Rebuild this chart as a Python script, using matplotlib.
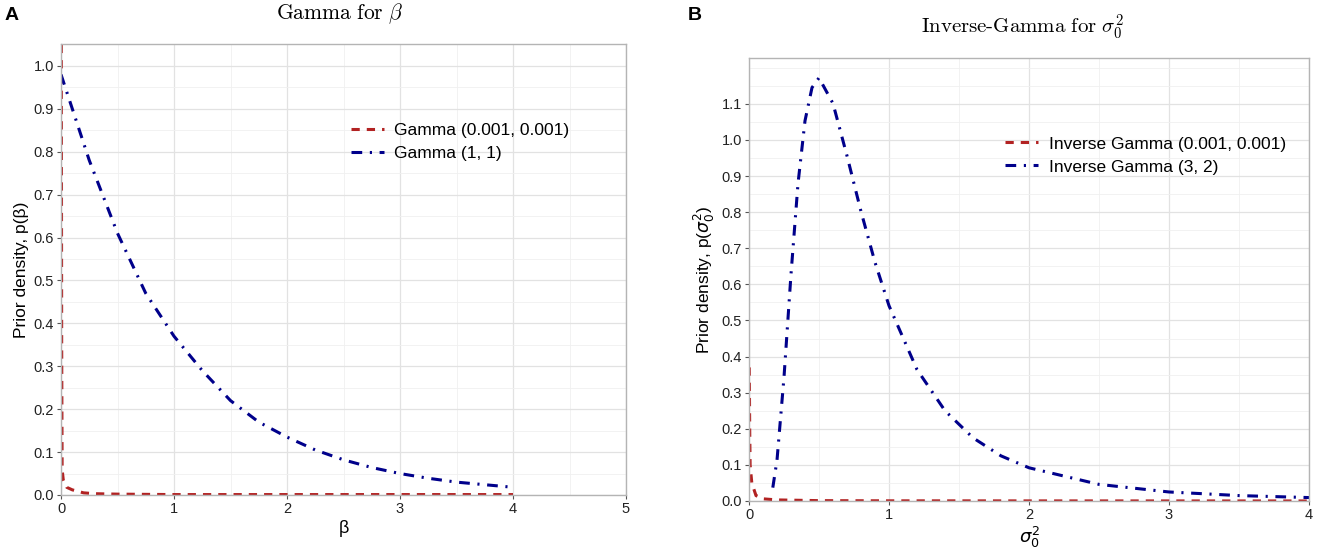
import matplotlib
matplotlib.use("Agg")
import matplotlib.pyplot as plt
from matplotlib.ticker import MultipleLocator

plt.rcParams['font.family'] = ['Liberation Sans', 'DejaVu Sans']
plt.rcParams['mathtext.fontset'] = 'dejavusans'

# Panel A: Gamma priors for beta
beta_vague_x = [0.002, 0.006, 0.01, 0.02, 0.05, 0.1, 0.2, 0.3, 0.5, 1.0, 1.5, 2.0, 2.5, 3.0, 3.5, 4.0]
beta_vague_y = [1.20, 0.35, 0.06, 0.035, 0.018, 0.012, 0.005, 0.003, 0.002, 0.001, 0.001, 0.001, 0.001, 0.001, 0.001, 0.001]
beta_inf_x = [0.0, 0.25, 0.5, 0.75, 1.0, 1.25, 1.5, 1.75, 2.0, 2.25, 2.5, 2.75, 3.0, 3.25, 3.5, 3.75, 4.0]
beta_inf_y = [0.98, 0.78, 0.61, 0.47, 0.37, 0.29, 0.22, 0.17, 0.135, 0.105, 0.082, 0.064, 0.05, 0.039, 0.03, 0.024, 0.018]

# Panel B: Inverse-Gamma priors for sigma0^2
sig_vague_x = [0.002, 0.005, 0.008, 0.02, 0.05, 0.1, 0.2, 0.5, 1.0, 2.0, 3.0, 4.0]
sig_vague_y = [0.37, 0.2, 0.1, 0.05, 0.015, 0.006, 0.003, 0.001, 0.0005, 0.0003, 0.0002, 0.0001]
sig_inf_x = [0.17, 0.2, 0.25, 0.3, 0.35, 0.4, 0.45, 0.5, 0.6, 0.7, 0.8, 0.9, 1.0, 1.2, 1.4, 1.6, 1.8, 2.0, 2.5, 3.0, 3.5, 4.0]
sig_inf_y = [0.037, 0.113, 0.343, 0.628, 0.879, 1.053, 1.145, 1.172, 1.101, 0.956, 0.802, 0.661, 0.541, 0.364, 0.250, 0.175, 0.125, 0.092, 0.046, 0.025, 0.015, 0.0095]

red = '#B22222'
navy = '#00008B'
dash_red = (0, (2.7, 2.3))
dash_blue = (0, (3.5, 2.5, 0.7, 2.5))

fig = plt.figure(figsize=(13.25, 5.58), dpi=100)
axA = fig.add_axes([61 / 1325, 63 / 558, 565 / 1325, 451 / 558])
axB = fig.add_axes([749 / 1325, 57 / 558, 560 / 1325, 443 / 558])


def style(ax):
    ax.grid(True, which='major', color='#e2e2e2', linewidth=0.9)
    ax.grid(True, which='minor', color='#f0f0f0', linewidth=0.6)
    for s in ax.spines.values():
        s.set_color('#b4b4b4')
        s.set_linewidth(1.0)
    ax.tick_params(which='major', length=3, color='#555555', labelsize=10.5, pad=2,
                   labelcolor='#222222')
    ax.tick_params(which='minor', length=0)
    ax.set_axisbelow(True)


axA.plot(beta_vague_x, beta_vague_y, color=red, lw=2.2, linestyle=dash_red, label='Gamma (0.001, 0.001)')
axA.plot(beta_inf_x, beta_inf_y, color=navy, lw=2.2, linestyle=dash_blue, label='Gamma (1, 1)')
axA.set_xlim(0, 5)
axA.set_ylim(0, 1.051)
axA.xaxis.set_major_locator(MultipleLocator(1))
axA.xaxis.set_minor_locator(MultipleLocator(0.5))
axA.set_yticks([i / 10 for i in range(11)])
axA.set_yticklabels(['%.1f' % (i / 10) for i in range(11)])
axA.yaxis.set_minor_locator(MultipleLocator(0.05))
style(axA)
axA.set_xlabel('β', fontsize=13, labelpad=3)
axA.set_ylabel('Prior density, p(β)', fontsize=12.5, labelpad=3)
axA.legend(loc='center left', bbox_to_anchor=(0.498, 0.782), frameon=False, fontsize=12.5,
           handlelength=1.9, handletextpad=0.6, labelspacing=0.45, borderpad=0)
fig.text(340 / 1325, 1 - 14 / 558, r'$\mathrm{Gamma\ for\ }\beta$', fontsize=15.5, ha='center',
         va='center', math_fontfamily='cm')
fig.text(5 / 1325, 1 - 15 / 558, 'A', fontsize=14, fontweight='bold', va='center')

axB.plot(sig_vague_x, sig_vague_y, color=red, lw=2.2, linestyle=dash_red, label='Inverse Gamma (0.001, 0.001)')
axB.plot(sig_inf_x, sig_inf_y, color=navy, lw=2.2, linestyle=dash_blue, label='Inverse Gamma (3, 2)')
axB.set_xlim(0, 4)
axB.set_ylim(0, 1.227)
axB.xaxis.set_major_locator(MultipleLocator(1))
axB.xaxis.set_minor_locator(MultipleLocator(0.5))
axB.set_yticks([i / 10 for i in range(12)])
axB.set_yticklabels(['%.1f' % (i / 10) for i in range(12)])
axB.yaxis.set_minor_locator(MultipleLocator(0.05))
style(axB)
axB.set_xlabel(r'$\sigma_0^2$', fontsize=13, labelpad=2)
axB.set_ylabel(r'Prior density, p($\sigma_0^2$)', fontsize=12.5, labelpad=3)
axB.legend(loc='center left', bbox_to_anchor=(0.442, 0.78), frameon=False, fontsize=12.5,
           handlelength=1.9, handletextpad=0.6, labelspacing=0.45, borderpad=0)
fig.text(1022 / 1325, 1 - 27 / 558, r'$\mathrm{Inverse\text{-}Gamma\ for\ }\sigma_0^2$', fontsize=15,
         ha='center', va='center', math_fontfamily='cm')
fig.text(688 / 1325, 1 - 15 / 558, 'B', fontsize=14, fontweight='bold', va='center')

fig.savefig('out.png', dpi=100)
